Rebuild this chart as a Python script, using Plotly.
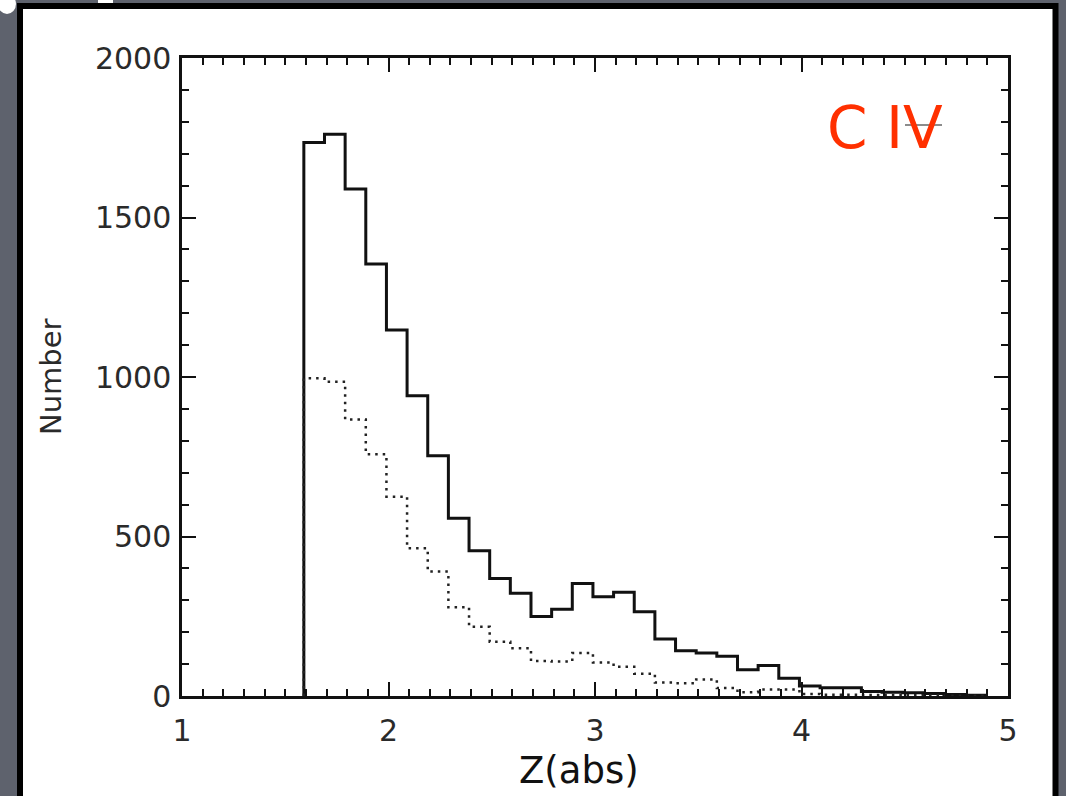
import numpy as np
import plotly.graph_objects as go

# ---- data ----
bin_start = 1.59
bin_width = 0.1
solid_counts = [1735, 1761, 1589, 1354, 1147, 941, 753, 557, 455, 368, 322, 249, 272,
                353, 311, 325, 264, 179, 142, 135, 125, 82, 96, 56, 31, 26, 26, 14,
                12, 10, 8, 5, 2]
dotted_counts = [996, 985, 867, 758, 625, 463, 390, 278, 217, 170, 150, 110, 108,
                 135, 105, 92, 70, 42, 40, 52, 25, 12, 20, 20, 6, 4, 4, 3,
                 3, 2, 2, 1, 1]
x_tick_vals = [1, 2, 3, 4, 5]
y_tick_vals = [0, 500, 1000, 1500, 2000]


def step_xy(counts):
    n = len(counts)
    edges = bin_start + bin_width * np.arange(n + 1)
    xs = [edges[0]] + list(edges) + [edges[-1]]
    ys = [0] + list(counts) + [counts[-1], 0]
    return xs, ys


# plot-area geometry in pixels
L, R, T, B = 182, 1008, 58, 696
W, H = R - L, B - T


def pxx(p):
    return (p - L) / W


def pxy(p):
    return (B - p) / H


fig = go.Figure()
xs, ys = step_xy(solid_counts)
fig.add_trace(go.Scatter(x=xs, y=ys, mode="lines", line_shape="hv",
                         line=dict(color="#111111", width=3), hoverinfo="skip"))
xs, ys = step_xy(dotted_counts)
fig.add_trace(go.Scatter(x=xs, y=ys, mode="lines", line_shape="hv",
                         line=dict(color="#222222", width=2.5, dash="2.5px,5px"),
                         hoverinfo="skip"))

tickfont = dict(family="DejaVu Sans", size=30, color="#2a2a2a")
axis_common = dict(showgrid=False, zeroline=False, showline=True, linecolor="#111111",
                   linewidth=2.5, mirror="allticks", ticks="inside", ticklen=14,
                   tickwidth=2, tickcolor="#111111", tickfont=tickfont)

fig.update_xaxes(range=[1, 5], tickvals=x_tick_vals, ticklabelstandoff=6,
                 minor=dict(ticks="inside", ticklen=7, tickwidth=2, dtick=0.1,
                            tickcolor="#111111"),
                 **axis_common)
fig.update_yaxes(range=[0, 2000], tickvals=y_tick_vals, ticklabelstandoff=2,
                 minor=dict(ticks="inside", ticklen=7, tickwidth=2, dtick=100,
                            tickcolor="#111111"),
                 **axis_common)

shapes = [
    # white slide panel with black border
    dict(type="rect", xref="paper", yref="paper", layer="below",
         x0=pxx(20), x1=pxx(1055.5), y0=pxy(6), y1=pxy(830),
         fillcolor="white", line=dict(color="black", width=6)),
    # small white artifacts at the top-left corner
    dict(type="circle", xref="paper", yref="paper", layer="below",
         x0=pxx(-2), x1=pxx(16), y0=pxy(-6), y1=pxy(14),
         fillcolor="white", line=dict(width=0)),
    dict(type="rect", xref="paper", yref="paper", layer="below",
         x0=pxx(98), x1=pxx(113), y0=pxy(-2), y1=pxy(3),
         fillcolor="white", line=dict(width=0)),
    # faint dash across "IV"
    dict(type="line", xref="paper", yref="paper", layer="above",
         x0=pxx(905), x1=pxx(942), y0=pxy(125), y1=pxy(125),
         line=dict(color="#666666", width=1.5)),
]

annotations = [
    dict(text="Number", xref="paper", yref="paper", x=pxx(51), y=pxy(377),
         textangle=-90, showarrow=False, xanchor="center", yanchor="middle",
         font=dict(family="DejaVu Sans", size=29, color="#2a2a2a")),
    dict(text="Z(abs)", xref="paper", yref="paper", x=pxx(579), y=pxy(770),
         showarrow=False, xanchor="center", yanchor="middle",
         font=dict(family="DejaVu Sans", size=37, color="#111111")),
    dict(text="C IV", xref="paper", yref="paper", x=pxx(885), y=pxy(128),
         showarrow=False, xanchor="center", yanchor="middle",
         font=dict(family="DejaVu Sans", size=58, color="#ff3000")),
]

fig.update_layout(
    width=1066, height=796,
    margin=dict(l=L, r=1066 - R, t=T, b=796 - B),
    paper_bgcolor="#5e626d", plot_bgcolor="white",
    showlegend=False, shapes=shapes, annotations=annotations,
)

fig.write_html("out.html")
